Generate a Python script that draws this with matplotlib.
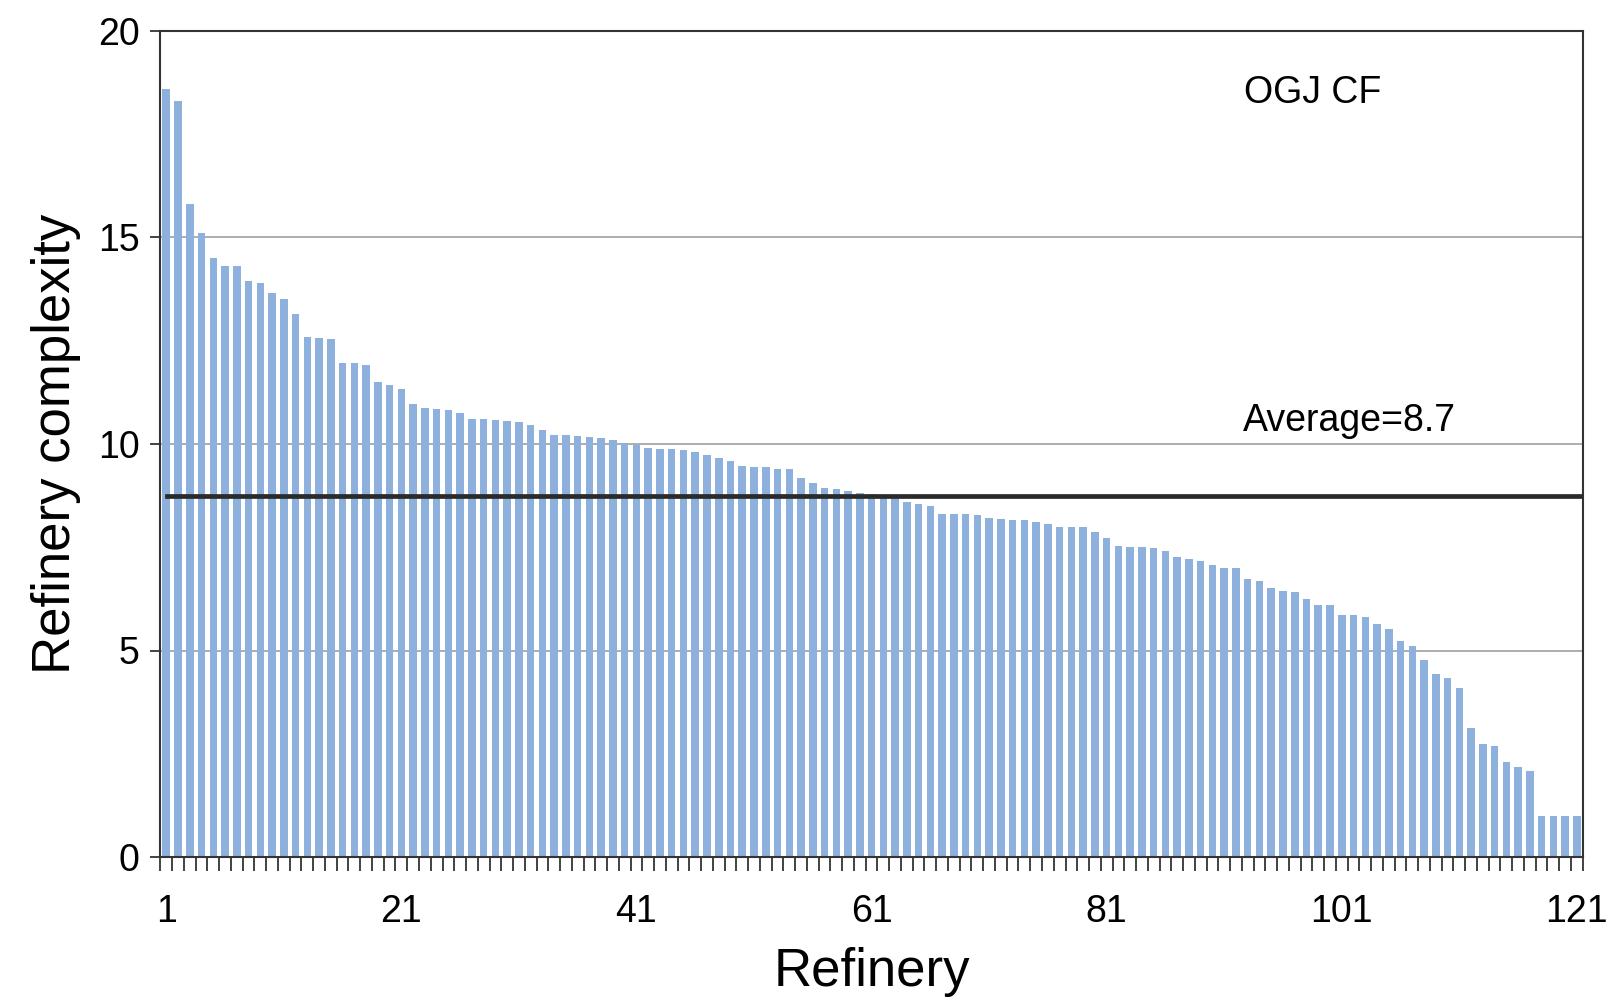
import matplotlib
matplotlib.use("Agg")
import matplotlib.pyplot as plt
import numpy as np

# refinery complexity values (sorted)
complexity = [
    18.6, 18.3, 15.8, 15.1, 14.5, 14.3, 14.3, 13.95, 13.9, 13.65,
    13.5, 13.15, 12.6, 12.57, 12.55, 11.97, 11.95, 11.92, 11.5, 11.42,
    11.32, 10.97, 10.88, 10.85, 10.82, 10.75, 10.61, 10.6, 10.58, 10.55,
    10.53, 10.46, 10.34, 10.22, 10.21, 10.19, 10.18, 10.15, 10.09, 10.02,
    9.98, 9.9, 9.88, 9.87, 9.85, 9.81, 9.73, 9.66, 9.58, 9.46,
    9.45, 9.45, 9.4, 9.39, 9.18, 9.05, 8.93, 8.91, 8.86, 8.82,
    8.78, 8.75, 8.71, 8.59, 8.55, 8.5, 8.31, 8.3, 8.3, 8.27,
    8.21, 8.18, 8.16, 8.15, 8.12, 8.07, 8.0, 8.0, 8.0, 7.87,
    7.72, 7.52, 7.51, 7.51, 7.48, 7.42, 7.27, 7.22, 7.16, 7.07,
    7.0, 7.0, 6.74, 6.68, 6.52, 6.44, 6.41, 6.24, 6.09, 6.09,
    5.86, 5.85, 5.81, 5.64, 5.53, 5.22, 5.1, 4.77, 4.44, 4.33,
    4.09, 3.12, 2.74, 2.68, 2.3, 2.17, 2.08, 1.0, 1.0, 1.0,
    1.0,
]
average = 8.73
x_labels = [1, 21, 41, 61, 81, 101, 121]
y_ticks = [0, 5, 10, 15, 20]

plt.rcParams['font.family'] = ['Liberation Sans', 'DejaVu Sans']

fig = plt.figure(figsize=(16.2, 10), dpi=100)
ax = fig.add_axes([0.099, 0.143, 0.878, 0.826])

refinery = np.arange(1, len(complexity) + 1)
ax.bar(refinery, complexity, width=0.64, color='#8db0dd', zorder=2)
ax.axhline(average, xmin=0.005, xmax=0.998, color='#2b2b2b', lw=3.4, zorder=3)

ax.set_xlim(0.5, len(complexity) + 0.5)
ax.set_ylim(0, 20)

# gridlines
for yv in y_ticks[1:-1]:
    ax.axhline(yv, color='#a0a0a0', lw=1.2, zorder=1)

# x axis: tick marks at bar boundaries, labels at bar centres
ax.set_xticks(np.arange(0.5, len(complexity) + 1, 1))
ax.set_xticklabels([])
ax.tick_params(axis='x', which='major', direction='out', length=10, width=1.2, color='#222222')
ax.set_xticks(x_labels, minor=True)
ax.set_xticklabels([str(v) for v in x_labels], minor=True)
ax.tick_params(axis='x', which='minor', length=0, pad=27, labelsize=27)

ax.set_yticks(y_ticks)
ax.tick_params(axis='y', direction='out', length=7, width=1.2, labelsize=27, pad=8, color='#222222')

for s in ax.spines.values():
    s.set_color('#333333')
    s.set_linewidth(1.5)

ax.set_xlabel('Refinery', fontsize=38, labelpad=12)
ax.set_ylabel('Refinery complexity', fontsize=38, labelpad=12)

ax.text(98.5, 18.5, 'OGJ CF', fontsize=27, ha='center', va='center')
ax.text(92.6, 10.55, 'Average=8.7', fontsize=27, ha='left', va='center')

fig.savefig('out.png', dpi=100)
